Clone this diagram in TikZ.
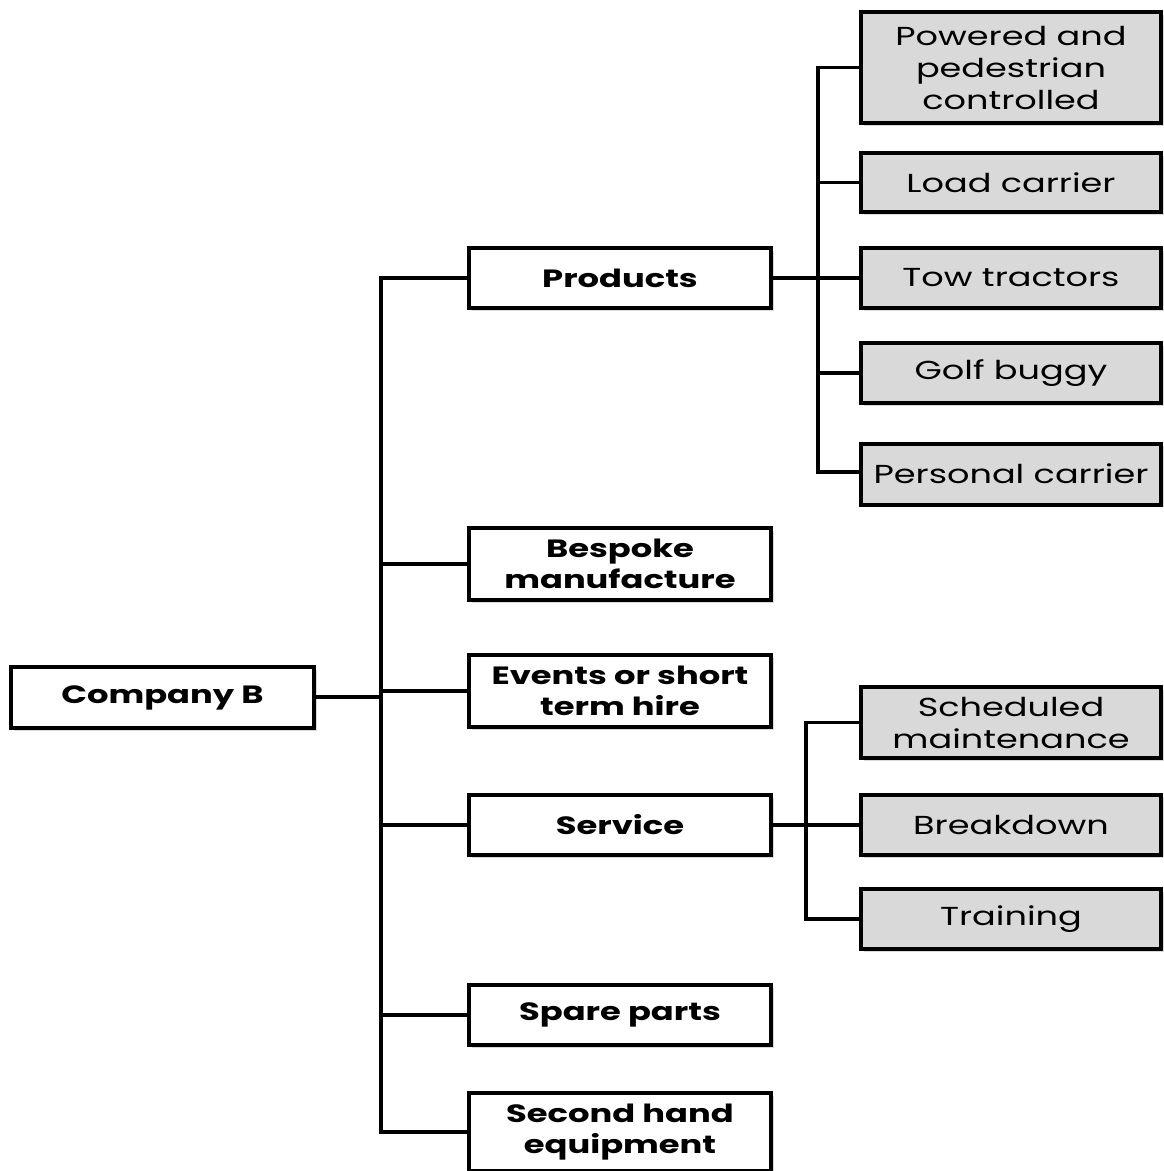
\documentclass[tikz,border=0pt]{standalone}
\usepackage{fontspec}
\setmainfont{Poppins}[FakeStretch=1.35]
\usetikzlibrary{shadows}
\begin{document}
\begin{tikzpicture}[x=1pt,y=-1pt,
  box/.style={draw=black, line width=4pt, fill=white, align=center,
    inner sep=0pt, text=black,
    drop shadow={shadow xshift=2.5pt, shadow yshift=-2.5pt, opacity=0.25, fill=black!60}},
  mid/.style={box, minimum width=302pt, font=\fontsize{25}{31}\selectfont\bfseries},
  sub/.style={box, fill=black!15, minimum width=300pt, font=\fontsize{26}{32}\selectfont},
  link/.style={line width=3.2pt, line cap=rect}]
\useasboundingbox (0,0) rectangle (1164,1171);
% root
\node[mid, minimum width=303pt, minimum height=61pt] (cb) at (162.5,697.5) {Company B};
% second level
\node[mid, minimum height=60pt] (prod) at (620,278) {Products};
\node[mid, minimum height=72pt] (besp) at (620,564) {Bespoke\\manufacture};
\node[mid, minimum height=72pt] (evt) at (620,691) {Events or short\\term hire};
\node[mid, minimum height=60pt] (serv) at (620,825) {Service};
\node[mid, minimum height=60pt] (spare) at (620,1015) {Spare parts};
\node[mid, minimum height=78pt] (sech) at (620,1132) {Second hand\\equipment};
% products
\node[sub, minimum height=111pt] (pow) at (1011,67.5) {Powered and\\pedestrian\\controlled};
\node[sub, minimum height=59pt] (load) at (1011,182.5) {Load carrier};
\node[sub, minimum height=60pt] (tow) at (1011,278) {Tow tractors};
\node[sub, minimum height=60pt] (golf) at (1011,373) {Golf buggy};
\node[sub, minimum height=61pt] (pers) at (1011,474) {Personal carrier};
% service
\node[sub, minimum height=71pt] (sched) at (1011,722.5) {Scheduled\\maintenance};
\node[sub, minimum height=60pt] (brk) at (1011,825) {Breakdown};
\node[sub, minimum height=60pt] (trn) at (1011,919) {Training};
% trunk positions
\coordinate (t) at (381,0);
\coordinate (tp) at (818,0);
\coordinate (ts) at (806,0);
% main trunk
\draw[link] (cb.east |- 0,697) -- (t |- 0,697);
\draw[link] (prod.west) -- (t |- prod.west) -- (t |- sech.west) -- (sech.west);
\foreach \n in {besp,evt,serv,spare}
  \draw[link] (t |- \n.west) -- (\n.west);
% products branch
\draw[link] (prod.east) -- (tow.west);
\draw[link] (pow.west) -- (tp |- pow.west) -- (tp |- 0,472) -- (pers.west |- 0,472);
\foreach \n in {load,golf}
  \draw[link] (tp |- \n.west) -- (\n.west);
% service branch
\draw[link] (serv.east) -- (brk.west);
\draw[link] (sched.west) -- (ts |- sched.west) -- (ts |- trn.west) -- (trn.west);
\end{tikzpicture}
\end{document}
